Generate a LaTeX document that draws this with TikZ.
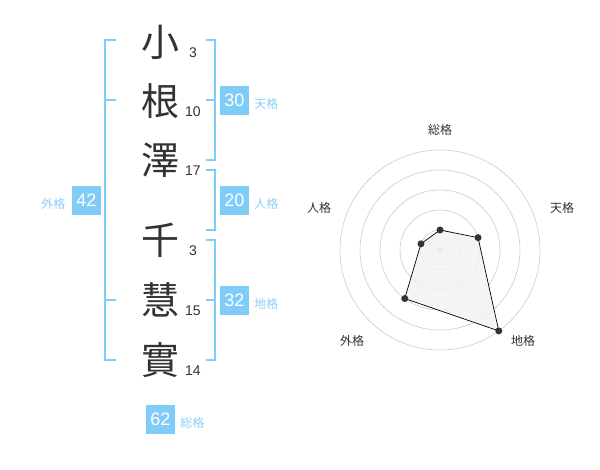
\documentclass[tikz,border=0pt]{standalone}
\usepackage{fontspec}
\setmainfont{Liberation Sans}
\newfontfamily\jp{Noto Sans CJK JP}
\usepackage{xcolor}
\definecolor{celeste}{RGB}{128,204,248}
\definecolor{celesteClaro}{RGB}{140,208,245}
\definecolor{grisOscuro}{RGB}{51,51,51}
\definecolor{grisCirculo}{RGB}{204,204,204}
\definecolor{grisRelleno}{RGB}{242,242,242}
\usepackage{tikz}
\usetikzlibrary{positioning,calc}
\tikzstyle{kanji}=[font=\jp\fontsize{38}{38}\selectfont,
                   text=grisOscuro, inner sep=0pt]
\tikzstyle{trazo}=[font=\fontsize{14}{14}\selectfont,
                   text=grisOscuro, inner sep=0pt]
\tikzstyle{caja}=[fill=celeste, text=white, minimum size=29pt,
                  inner sep=0pt, font=\fontsize{18}{18}\selectfont]
\tikzstyle{etiqueta}=[font=\jp\fontsize{12}{12}\selectfont,
                      text=celesteClaro, inner sep=0pt]
\tikzstyle{corchete}=[draw=celeste, line width=2pt]
\tikzstyle{punto}=[circle, fill=grisOscuro, minimum size=7pt,
                   inner sep=0pt]
\tikzstyle{eje}=[font=\jp\fontsize{12}{12}\selectfont,
                 text=grisOscuro, inner sep=0pt]

\begin{document}
\begin{tikzpicture}[x=1pt,y=-1pt]
    \useasboundingbox[fill=white] (0,0) rectangle (600,470);

    % nombre
    \foreach \c/\y/\n/\s in {小/42/k1/3,根/101/k2/10,澤/160/k3/17,
                             千/240/k4/3,慧/300/k5/15,實/360/k6/14}
    {
        \node[kanji] (\n) at (160,\y) {\c};
        \node[trazo] (t\n) at (193,\y+11) {\s};
    }

    % corchetes
    \draw[corchete] (116,40) -- (105,40) -- (105,360) -- (116,360);
    \foreach \y in {100,300}
        \draw[corchete] (105,\y) -- (116,\y);
    \draw[corchete] (206,40) -- (215,40) -- (215,160) -- (206,160);
    \draw[corchete] (206,100) -- (215,100);
    \draw[corchete] (206,170) -- (215,170) -- (215,230) -- (206,230);
    \draw[corchete] (206,240) -- (215,240) -- (215,360) -- (206,360);
    \draw[corchete] (206,300) -- (215,300);

    % cajas
    \node[caja] (ten) at (234.5,100.5) {30};
    \node[caja] (jin) at (234.5,200.5) {20};
    \node[caja] (chi) at (234.5,300.5) {32};
    \node[caja] (gai) at (86.3,200.5) {42};
    \node[caja] (sou) at (160.5,419.5) {62};
    \node[etiqueta, right=5pt of ten, yshift=-3pt] {天格};
    \node[etiqueta, right=5pt of jin, yshift=-3pt] {人格};
    \node[etiqueta, right=5pt of chi, yshift=-3pt] {地格};
    \node[etiqueta, left=6pt of gai, yshift=-3pt] {外格};
    \node[etiqueta, right=5pt of sou, yshift=-3pt] {総格};

    % radar
    \begin{scope}[shift={(440,250)},yscale=-1]
        \foreach \r in {20,40,...,100}
            \draw[grisCirculo, line width=0.6pt] (0,0) circle (\r);
        \fill[grisCirculo] (0,0) circle (3.2);
        \foreach \n/\a/\r in {sou/90/20,ten/18/40,chi/-54/100,
                              gai/-126/60,jin/162/20}
            \coordinate (p\n) at (\a:\r);
        \filldraw[fill=grisRelleno, fill opacity=0.8, draw=black,
                  line width=0.7pt]
            (psou) -- (pten) -- (pchi) -- (pgai) -- (pjin) -- cycle;
        \foreach \n in {sou,ten,chi,gai,jin}
            \node[punto] (q\n) at (p\n) {};
        \node[eje] (esou) at (0,120) {総格};
        \node[eje] (eten) at (122,42) {天格};
        \node[eje] (ejin) at (-121,42) {人格};
        \node[eje] (egai) at (-88,-91) {外格};
        \node[eje] (echi) at (83,-91) {地格};
    \end{scope}

\end{tikzpicture}
\end{document}
